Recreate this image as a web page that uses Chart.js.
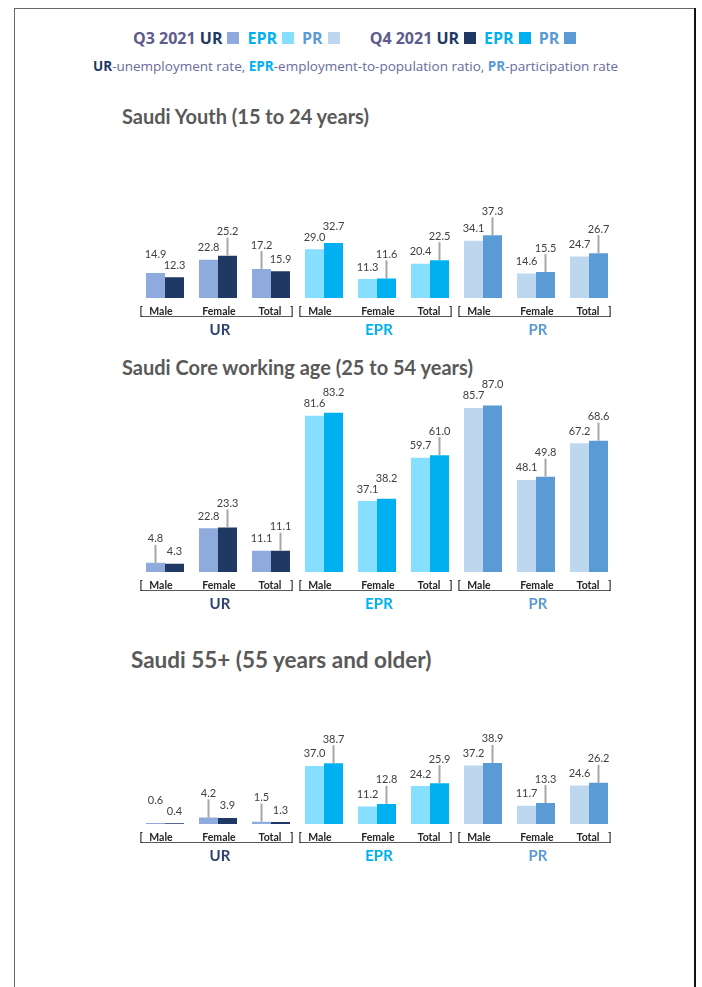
<!DOCTYPE html>
<html>
<head>
<meta charset="utf-8">
<script src="https://cdn.jsdelivr.net/npm/chart.js@4.4.1/dist/chart.umd.min.js"></script>
<style>
  body { margin: 0; background: #fff; }
  #page { position: relative; width: 702px; height: 987px; overflow: hidden; font-family: "Open Sans", sans-serif; }
  .frame-top { position: absolute; left: 14px; top: 8px; width: 681px; height: 1px; background: #666; }
  .frame-left { position: absolute; left: 14px; top: 8px; width: 1px; height: 990px; background: #666; }
  .frame-right { position: absolute; left: 694px; top: 8px; width: 2px; height: 990px; background: #111; }
  .legend { position: absolute; top: 25px; left: 133px; white-space: nowrap; font-weight: 700; font-size: 16px; color: #5c5c8e; }
  .legend span { display: inline-block; vertical-align: middle; }
  .sq { width: 12px; height: 12px; margin: 0 8px 0 5px; }
  .defs { position: absolute; top: 57px; left: 93px; white-space: nowrap; font-size: 13.5px; color: #6a6a9c; }
  .ur { color: #203864; }
  .epr { color: #00b0f0; }
  .pr { color: #5b9bd5; }
  .title { position: absolute; font-family: Lato, sans-serif; font-weight: 700; color: #595959; font-size: 20px; white-space: nowrap; }
  .box { position: absolute; left: 120px; width: 510px; }
</style>
</head>
<body>
<div id="page">
  <div class="frame-top"></div>
  <div class="frame-left"></div>
  <div class="frame-right"></div>

  <div class="legend">
    <span>Q3 2021</span>&nbsp;<span class="ur">UR</span><span class="sq" style="background:#8faadc"></span><span class="epr">EPR</span><span class="sq" style="background:#87dfff"></span><span class="pr">PR</span><span class="sq" style="background:#bdd7ee;margin-right:30px"></span><span>Q4 2021</span>&nbsp;<span class="ur">UR</span><span class="sq" style="background:#203864"></span><span class="epr">EPR</span><span class="sq" style="background:#00b0f0"></span><span class="pr">PR</span><span class="sq" style="background:#5b9bd5"></span>
  </div>
  <div class="defs"><b class="ur">UR</b>-unemployment rate, <b class="epr">EPR</b>-employment-to-population ratio, <b class="pr">PR</b>-participation rate</div>

  <div class="title" style="left:122px;top:104px">Saudi Youth (15 to 24 years)</div>
  <div class="title" style="left:122px;top:355px">Saudi Core working age (25 to 54 years)</div>
  <div class="title" style="left:131px;top:646px;font-size:22.5px">Saudi 55+ (55 years and older)</div>

  <div class="box" style="top:190px;height:153px"><canvas id="youth"></canvas></div>
  <div class="box" style="top:370px;height:247px"><canvas id="core"></canvas></div>
  <div class="box" style="top:720px;height:149px"><canvas id="older"></canvas></div>
</div>

<script>
const categories = ["Male", "Female", "Total", "Male", "Female", "Total", "Male", "Female", "Total"];
const groups = ["UR", "EPR", "PR"];
const periods = ["Q3 2021", "Q4 2021"];

const youthQ3 = [14.9, 22.8, 17.2, 29.0, 11.3, 20.4, 34.1, 14.6, 24.7];
const youthQ4 = [12.3, 25.2, 15.9, 32.7, 11.6, 22.5, 37.3, 15.5, 26.7];
const coreQ3 = [4.8, 22.8, 11.1, 81.6, 37.1, 59.7, 85.7, 48.1, 67.2];
const coreQ4 = [4.3, 23.3, 11.1, 83.2, 38.2, 61.0, 87.0, 49.8, 68.6];
const olderQ3 = [0.6, 4.2, 1.5, 37.0, 11.2, 24.2, 37.2, 11.7, 24.6];
const olderQ4 = [0.4, 3.9, 1.3, 38.7, 12.8, 25.9, 38.9, 13.3, 26.2];

// which data labels have a leader line (Q3 row, Q4 row)
const youthLeaders = [[0, 0, 1, 0, 0, 0, 0, 0, 0], [0, 1, 0, 0, 1, 1, 1, 1, 1]];
const coreLeaders = [[1, 0, 0, 0, 0, 0, 0, 0, 0], [0, 1, 1, 0, 0, 1, 0, 1, 1]];
const olderLeaders = [[0, 1, 1, 0, 0, 0, 0, 0, 0], [0, 0, 0, 1, 1, 1, 1, 1, 1]];

const q3Colors = ["#8faadc", "#87dfff", "#bdd7ee"];
const q4Colors = ["#203864", "#00b0f0", "#5b9bd5"];
const groupColors = ["#2f4372", "#00b0f0", "#5b9bd5"];
const FONT = "Lato, 'Open Sans', sans-serif";

function perBar(colors) {
  return categories.map((c, i) => colors[Math.floor(i / 3)]);
}

const labelsPlugin = {
  id: "barLabels",
  afterDatasetsDraw(chart) {
    const ctx = chart.ctx;
    const leaders = chart.options.plugins.barLabels.leaders;
    const m0 = chart.getDatasetMeta(0);
    const m1 = chart.getDatasetMeta(1);
    ctx.save();
    ctx.font = "11px " + FONT;
    ctx.fillStyle = "#404040";
    ctx.textAlign = "center";
    ctx.textBaseline = "middle";
    for (let i = 0; i < categories.length; i++) {
      const bars = [m0.data[i], m1.data[i]];
      const ys = bars.map((b, d) => b.y - (leaders[d][i] ? 24 : 12));
      if (Math.abs(ys[0] - ys[1]) < 11) {
        const hi = ys[0] < ys[1] ? 0 : 1;
        ys[hi] = ys[1 - hi] - 11;
      }
      bars.forEach((b, d) => {
        const v = chart.data.datasets[d].data[i];
        if (leaders[d][i]) {
          ctx.strokeStyle = "#a6a6a6";
          ctx.lineWidth = 2;
          ctx.beginPath();
          ctx.moveTo(b.x, b.y);
          ctx.lineTo(b.x, ys[d] + 6);
          ctx.stroke();
        }
        ctx.fillText(v.toFixed(1), b.x, ys[d]);
      });
    }
    ctx.restore();
  },
  afterDraw(chart) {
    const ctx = chart.ctx;
    const x = chart.scales.x;
    const base = chart.chartArea.bottom;
    const step = x.getPixelForValue(1) - x.getPixelForValue(0);
    const lineY = base + 18;
    ctx.save();
    ctx.fillStyle = "#262626";
    ctx.font = "bold 10.5px " + FONT;
    ctx.textBaseline = "alphabetic";
    groups.forEach((g, gi) => {
      const left = x.getPixelForValue(gi * 3) - step / 2;
      const right = x.getPixelForValue(gi * 3 + 2) + step / 2;
      ctx.strokeStyle = "#595959";
      ctx.lineWidth = 1;
      ctx.beginPath();
      ctx.moveTo(left + 3, lineY + 0.5);
      ctx.lineTo(right - 7, lineY + 0.5);
      ctx.stroke();
      ctx.textAlign = "left";
      ctx.fillText("[", left + 1, lineY - 1);
      ctx.textAlign = "right";
      ctx.fillText("]", right - 4, lineY - 1);
      ctx.textAlign = "center";
      ctx.fillText(categories[gi * 3], x.getPixelForValue(gi * 3) - 4, lineY - 1);
      ctx.fillText(categories[gi * 3 + 1], x.getPixelForValue(gi * 3 + 1) + 1, lineY - 1);
      ctx.fillText(categories[gi * 3 + 2], x.getPixelForValue(gi * 3 + 2) - 1, lineY - 1);
    });
    ctx.font = "bold 15px " + FONT;
    ctx.textBaseline = "middle";
    groups.forEach((g, gi) => {
      ctx.fillStyle = groupColors[gi];
      ctx.fillText(g, x.getPixelForValue(gi * 3 + 1) + 2, base + 32);
    });
    ctx.restore();
  },
};

function makeChart(id, q3, q4, leaders, yMax, padTop) {
  return new Chart(document.getElementById(id), {
    type: "bar",
    data: {
      labels: categories,
      datasets: [
        { label: periods[0], data: q3, backgroundColor: perBar(q3Colors) },
        { label: periods[1], data: q4, backgroundColor: perBar(q4Colors) },
      ],
    },
    options: {
      responsive: true,
      maintainAspectRatio: false,
      animation: false,
      layout: { padding: { left: 18.5, right: 14.5, top: padTop, bottom: 45 } },
      datasets: { bar: { categoryPercentage: 0.717, barPercentage: 1, borderWidth: 0 } },
      scales: {
        x: { display: false },
        y: { display: false, min: 0, max: yMax },
      },
      plugins: {
        legend: { display: false },
        tooltip: { enabled: false },
        barLabels: { leaders: leaders },
      },
    },
    plugins: [labelsPlugin],
  });
}

makeChart("youth", youthQ3, youthQ4, youthLeaders, 50, 24);
makeChart("core", coreQ3, coreQ4, coreLeaders, 100, 10.5);
makeChart("older", olderQ3, olderQ4, olderLeaders, 50, 25.5);
</script>
</body>
</html>
